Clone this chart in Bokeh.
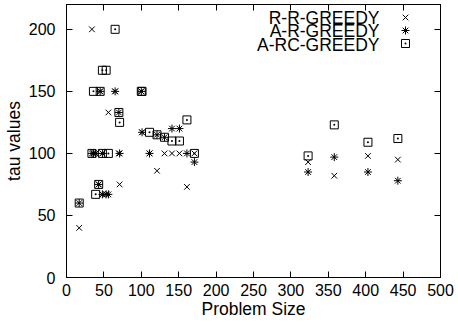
from bokeh.plotting import figure
from bokeh.models import Range1d, LinearAxis, SingleIntervalTicker, Legend, LegendItem, Label
from bokeh.embed import file_html
from bokeh.resources import INLINE

# Problem sizes (instance sizes)
sizes = [17, 34, 36, 39, 43, 45, 48, 48, 53, 56, 65, 70, 71, 100, 101, 111,
         121, 131, 141, 151, 161, 171, 323, 358, 403, 443]
rr_greedy = [40, 200, 100, 100, 75, 150, 100, 67, 67, 133, 150, 100, 75, 150, 117, 100,
             86, 100, 100, 100, 73, 100, 93, 82, 98, 95]
ar_greedy = [60, 100, 100, 100, 75, 150, 67, 100, 67, 67, 150, 133, 100, 150, 117, 100,
             115, 113, 120, 120, 100, 93, 85, 97, 85, 78]
arc_greedy = [60, 100, 150, 67, 75, 150, 167, 100, 167, 100, 200, 133, 125, 150, 150, 117,
              115, 113, 110, 110, 127, 100, 98, 123, 109, 112]
series_names = ["R-R-GREEDY", "A-R-GREEDY", "A-RC-GREEDY"]
x_ticks_step = 50
y_ticks_step = 50

FONT = "Liberation Sans"

p = figure(width=458, height=322, output_backend="svg", toolbar_location=None,
           x_range=Range1d(0, 500), y_range=Range1d(0, 220),
           min_border_left=65, min_border_right=18, min_border_top=3, min_border_bottom=45,
           x_axis_label="Problem Size", y_axis_label="tau values")
p.xgrid.visible = False
p.ygrid.visible = False
p.outline_line_color = "black"
p.outline_line_width = 1
p.background_fill_color = "white"
p.border_fill_color = "white"

for ax, step in ((p.xaxis[0], x_ticks_step), (p.yaxis[0], y_ticks_step)):
    ax.ticker = SingleIntervalTicker(interval=step)
    ax.major_tick_in = 6
    ax.major_tick_out = 0
    ax.minor_tick_line_color = None
    ax.axis_line_color = "black"
    ax.major_tick_line_color = "black"
    ax.major_label_text_font = FONT
    ax.major_label_text_font_size = "16px"
    ax.major_label_text_color = "black"
    ax.axis_label_text_font = FONT
    ax.axis_label_text_font_size = "17.5px"
    ax.axis_label_text_font_style = "normal"
    ax.axis_label_text_color = "black"

p.xaxis[0].major_label_standoff = 2
p.xaxis[0].axis_label_standoff = 0
p.yaxis[0].major_label_standoff = 7
p.yaxis[0].axis_label_standoff = 2

# mirror ticks
for loc, step in (("above", x_ticks_step), ("right", y_ticks_step)):
    a = LinearAxis(ticker=SingleIntervalTicker(interval=step), major_tick_in=6, major_tick_out=0,
                   minor_tick_line_color=None, major_label_text_color=None,
                   major_label_text_font_size="1px",
                   major_label_standoff=0, axis_line_color="black")
    p.add_layout(a, loc)

r1 = p.scatter(sizes, rr_greedy, marker="x", size=8, line_color="black", line_width=1)
r2 = p.scatter(sizes, ar_greedy, marker="asterisk", size=8, line_color="black", line_width=1)
r3 = p.scatter(sizes, arc_greedy, marker="square_dot", size=8, line_color="black",
               fill_color=None, line_width=1)

# gnuplot-style key: text on the left (right-aligned), sample marker on the right
for i, (name, r) in enumerate(zip(series_names, (r1, r2, r3))):
    lg = Legend(items=[LegendItem(label=" ", renderers=[r])],
                location=(329, 250 - 13 * i), orientation="vertical", padding=0, spacing=0,
                margin=0, glyph_width=20, glyph_height=20, label_height=10,
                label_width=0, label_standoff=0, label_text_font_size="6px",
                border_line_color=None, background_fill_alpha=0)
    p.add_layout(lg, "center")
    p.add_layout(Label(x=313, y=260 - 13.5 * i, x_units="screen", y_units="screen",
                       text=name, text_align="right", text_baseline="middle",
                       text_font=FONT, text_font_size="17.5px", text_color="black"))

open("out.html", "w").write(file_html(p, INLINE))
